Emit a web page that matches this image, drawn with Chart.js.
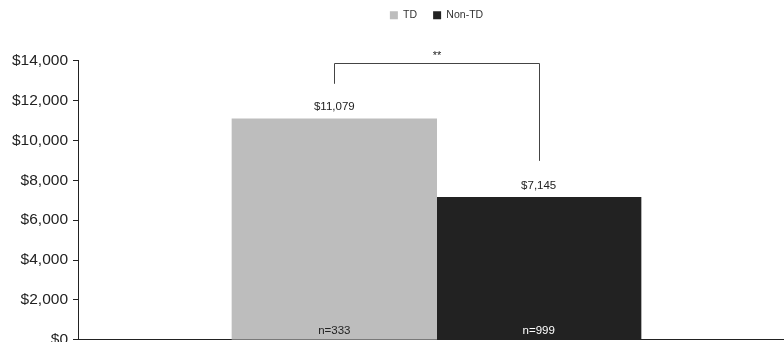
<!DOCTYPE html>
<html>
<head>
<meta charset="utf-8">
<script src="https://cdn.jsdelivr.net/npm/chart.js@4.4.1/dist/chart.umd.min.js"></script>
<style>
  html, body { margin: 0; padding: 0; background: #fff; overflow: hidden; }
  #wrap { position: absolute; left: 0; top: 0; width: 800px; height: 354px; }
</style>
</head>
<body>
<div id="wrap"><canvas id="chart"></canvas></div>
<script>
    // data
    var categories = ['Cost'];
    var seriesNames = ['TD', 'Non-TD'];
    var tdValues = [11079];
    var nonTdValues = [7145];
    var sampleSizes = ['n=333', 'n=999'];
    var yTicks = [0, 2000, 4000, 6000, 8000, 10000, 12000, 14000];
    // significance bracket: top level, left leg end, right leg end
    var bracketLevels = [13900, 12850, 8980];
    var bracketLabel = '**';

    var money = function (v) {
        return '$' + v.toLocaleString('en-US');
    };

    var annotations = {
        id: 'annotations',
        afterDatasetsDraw: function (chart) {
            var ctx = chart.ctx;
            var y = chart.scales.y;
            var bars = [chart.getDatasetMeta(0).data[0], chart.getDatasetMeta(1).data[0]];
            var values = [tdValues[0], nonTdValues[0]];
            ctx.save();
            ctx.textAlign = 'center';
            ctx.textBaseline = 'middle';
            ctx.font = '11.5px "Liberation Sans", Arial, sans-serif';
            bars.forEach(function (bar, i) {
                ctx.fillStyle = '#222';
                ctx.fillText(money(values[i]), bar.x, bar.y - 12);
                ctx.fillStyle = i === 0 ? '#222' : '#ffffff';
                ctx.fillText(sampleSizes[i], bar.x, y.bottom - 9);
            });

            // bracket
            var yTop = Math.round(y.getPixelForValue(bracketLevels[0])) + 0.5;
            var x1 = Math.round(bars[0].x) + 0.5;
            var x2 = Math.round(bars[1].x) + 0.5;
            ctx.strokeStyle = '#444';
            ctx.lineWidth = 1;
            ctx.beginPath();
            ctx.moveTo(x1, y.getPixelForValue(bracketLevels[1]));
            ctx.lineTo(x1, yTop);
            ctx.lineTo(x2, yTop);
            ctx.lineTo(x2, y.getPixelForValue(bracketLevels[2]));
            ctx.stroke();
            ctx.fillStyle = '#222';
            ctx.font = '11px "Liberation Sans", Arial, sans-serif';
            ctx.fillText(bracketLabel, (x1 + x2) / 2, yTop - 8);
            ctx.restore();
        }
    };

    new Chart(document.getElementById('chart'), {
        type: 'bar',
        data: {
            labels: categories,
            datasets: [{
                label: seriesNames[0],
                data: tdValues,
                backgroundColor: '#bdbdbd',
                inflateAmount: 0.5
            }, {
                label: seriesNames[1],
                data: nonTdValues,
                backgroundColor: '#222222',
                inflateAmount: 0.5
            }]
        },
        options: {
            responsive: true,
            maintainAspectRatio: false,
            animation: false,
            layout: {
                padding: { left: 0, right: 5, top: -6, bottom: 11 }
            },
            datasets: {
                bar: {
                    categoryPercentage: 0.57,
                    barPercentage: 1.0
                }
            },
            plugins: {
                legend: {
                    position: 'top',
                    fullSize: false,
                    labels: {
                        boxWidth: 8,
                        boxHeight: 8,
                        padding: 16,
                        color: '#333',
                        font: { family: '"Liberation Sans", Arial, sans-serif', size: 10.5 }
                    }
                },
                title: {
                    display: true,
                    text: '',
                    weight: 500,
                    padding: { top: 16, bottom: 0 }
                },
                tooltip: { enabled: false }
            },
            scales: {
                x: {
                    ticks: { display: false },
                    grid: { display: false },
                    border: { display: true, color: '#222', width: 1 },
                    afterFit: function (scale) { scale.height = 0; }
                },
                y: {
                    min: yTicks[0],
                    max: yTicks[yTicks.length - 1],
                    afterBuildTicks: function (scale) {
                        scale.ticks = yTicks.map(function (v) { return { value: v }; });
                    },
                    afterFit: function (scale) { scale.width = 78; },
                    ticks: {
                        padding: 5,
                        color: '#222',
                        font: { family: '"Liberation Sans", Arial, sans-serif', size: 15.5 },
                        callback: function (v) { return money(v); }
                    },
                    grid: {
                        drawOnChartArea: false,
                        drawTicks: true,
                        tickLength: 5,
                        color: '#222'
                    },
                    border: { display: true, color: '#222', width: 1 }
                }
            }
        },
        plugins: [annotations]
    });
</script>
</body>
</html>
